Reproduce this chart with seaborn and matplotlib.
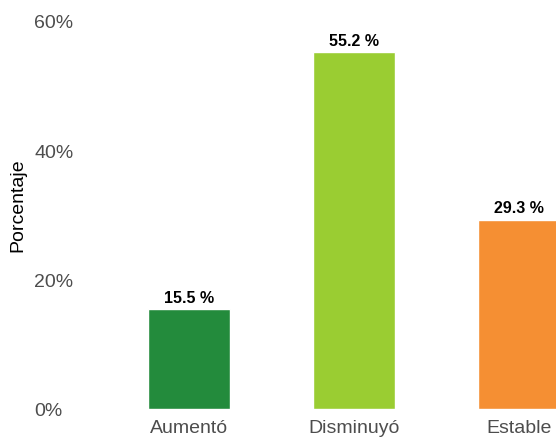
import pandas as pd
import matplotlib
matplotlib.use("Agg")
import matplotlib.pyplot as plt
import seaborn as sns

categorias = ["Aumentó", "Disminuyó", "Estable"]
porcentajes = [15.5, 55.2, 29.3]
colores = ["#238B3C", "#9ACD32", "#F58F33"]
yticks = [0, 20, 40, 60]
ytick_labels = ["0%", "20%", "40%", "60%"]

df = pd.DataFrame({"Categoria": categorias, "Porcentaje": porcentajes})

sns.set_style("white")
plt.rcParams["font.family"] = ["Liberation Sans", "DejaVu Sans"]

fig = plt.figure(figsize=(5.56, 4.39), dpi=100)
ax = fig.add_axes([90 / 556, 29 / 439, 1 - 90 / 556, 410 / 439])

sns.barplot(
    x="Categoria",
    y="Porcentaje",
    hue="Categoria",
    data=df,
    palette=colores,
    width=0.5,
    legend=False,
    ax=ax,
    saturation=1,
)

for c in ax.containers:
    ax.bar_label(c, fmt="{:.1f} %", padding=3, fontsize=11.5, fontweight="bold", color="black")

ax.set_xlim(-0.6, 2.224)
ax.set_ylim(0, 63.4)
ax.set_yticks(yticks)
ax.set_yticklabels(ytick_labels, ha="left")
ax.tick_params(axis="both", length=0, labelsize=14, labelcolor="#4D4D4D")
ax.tick_params(axis="x", pad=7)
ax.tick_params(axis="y", pad=40)
ax.set_xlabel("")
ax.set_ylabel("Porcentaje", fontsize=14, color="black", labelpad=6)
sns.despine(left=True, bottom=True)

fig.savefig("out.png", dpi=100)
